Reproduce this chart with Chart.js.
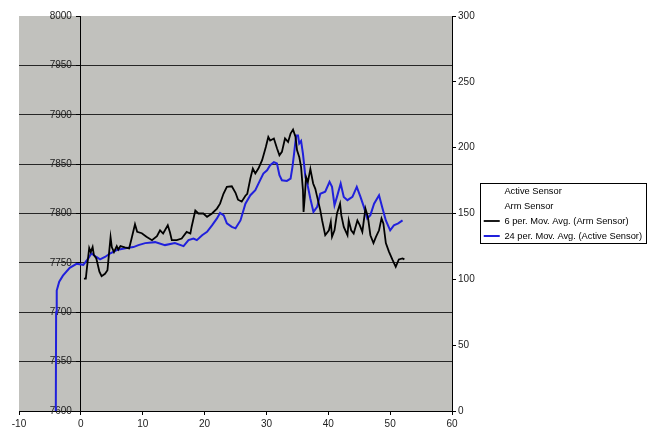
<!DOCTYPE html>
<html>
<head>
<meta charset="utf-8">
<script src="https://cdn.jsdelivr.net/npm/chart.js@4.4.0/dist/chart.umd.min.js"></script>
<style>
  html, body { margin: 0; padding: 0; background: #fff; }
  #wrap { width: 652px; height: 431px; }
</style>
</head>
<body>
<div id="wrap"><canvas id="sensorChart" width="652" height="431"></canvas></div>
<script>
// values
const armAvgX = [0.5, 0.8, 1.0, 1.35, 1.6, 1.9, 2.1, 2.5, 3.0, 3.35, 3.9, 4.3, 4.5, 4.8, 5.0, 5.35, 5.8, 6.05, 6.4, 7.1,
  7.8, 8.2, 8.75, 9.1, 9.85, 10.6, 11.5, 12.3, 12.8, 13.3, 14.05, 14.4, 14.7, 15.5, 16.3, 17.1, 17.7, 17.9, 18.5, 19.0,
  19.8, 20.4, 21.2, 22.0, 22.5, 23.05, 23.6, 24.4, 25.0, 25.4, 26.0, 26.6, 26.9, 27.4, 27.8, 28.2, 28.7, 29.3, 29.9, 30.3,
  30.6, 31.2, 31.7, 32.1, 32.5, 33.0, 33.5, 33.9, 34.3, 34.7, 34.95, 35.3, 35.6, 35.9, 36.0, 36.2, 36.4, 36.7, 37.1, 37.55,
  37.9, 38.2, 38.7, 39.0, 39.5, 40.1, 40.4, 40.6, 41.0, 41.4, 41.9, 42.1, 42.5, 43.1, 43.3, 43.7, 44.1, 44.7, 45.1, 45.5,
  46.0, 46.4, 46.8, 47.3, 47.7, 48.2, 48.6, 48.9, 49.3, 49.8, 50.4, 50.9, 51.4, 52.0, 52.3];
const armAvgY = [7734, 7734, 7746, 7765, 7761, 7766, 7758, 7754.5, 7741, 7736.5, 7739, 7742.5, 7756, 7776, 7766, 7761, 7767, 7763.5, 7767, 7765.6,
  7764.6, 7774.7, 7789, 7781.4, 7780, 7776.4, 7773, 7777, 7783, 7779.7, 7788, 7781, 7773, 7773, 7774.7, 7781.4, 7779.7, 7786.4, 7803, 7800,
  7800, 7796.6, 7800, 7805, 7810, 7820, 7827, 7827.6, 7821, 7814, 7812, 7818, 7820, 7835.4, 7845.5, 7840.5, 7845.5, 7854, 7867.4, 7877.5,
  7874, 7876, 7866, 7859, 7862.4, 7876, 7872.5, 7881, 7885, 7877.5, 7864, 7857.3, 7847, 7823.6, 7801.6, 7816.8, 7837, 7832, 7845, 7830.4,
  7825, 7816.8, 7803.4, 7793, 7778, 7783, 7791.5, 7776.4, 7783, 7800, 7810, 7798.3, 7786.4, 7778, 7793, 7783, 7779.7, 7793, 7788, 7781.4,
  7805, 7796.6, 7778, 7770, 7776.4, 7783, 7795, 7790, 7770, 7761.4, 7752.7, 7746, 7753.5, 7754.5, 7753.5];

const activeAvgX = [-4.05, -4.0, -3.9, -3.5, -2.9, -1.8, -0.7, 0.4, 1.2, 1.7, 2.5, 3.1, 3.9, 4.7, 5.8, 7.4, 8.5, 9.3, 10.4, 12.0,
  13.6, 15.2, 16.6, 17.4, 18.2, 18.75, 19.6, 20.4, 21.2, 22.0, 22.5, 23.1, 23.6, 24.4, 25.0, 25.8, 26.6, 27.4, 28.2, 29.0,
  29.5, 30.1, 30.6, 31.2, 31.7, 32.1, 32.5, 33.3, 33.9, 34.2, 34.5, 34.8, 35.1, 35.3, 35.6, 35.9, 36.3, 36.6, 37.1, 37.6,
  38.2, 38.7, 39.5, 40.2, 40.6, 41.0, 41.4, 42.0, 42.5, 43.1, 43.9, 44.6, 45.2, 45.75, 46.3, 46.8, 47.4, 48.2, 48.7, 49.3,
  50.0, 50.6, 51.3, 52.0];
const activeAvgY = [7600, 7700, 7722, 7731, 7737, 7745, 7749, 7748, 7754.5, 7759.5, 7756, 7753.5, 7756, 7759.5, 7763, 7765, 7766, 7768, 7770, 7771,
  7768, 7770, 7767, 7773, 7774.7, 7773, 7778, 7781.4, 7788, 7795, 7800.6, 7798, 7790, 7786.4, 7785, 7793, 7810, 7818.5, 7823.6, 7834,
  7840.5, 7843.8, 7849, 7852, 7850.6, 7838.8, 7833.7, 7833, 7835.4, 7847, 7862.4, 7879, 7879, 7871, 7873.5, 7860.7, 7837, 7830.4, 7815, 7801.6,
  7806.7, 7820, 7822, 7832, 7827, 7808.4, 7816.8, 7830.4, 7816.8, 7813.5, 7816.8, 7827, 7816.8, 7806.7, 7795, 7798.3, 7810, 7818.5, 7806.7, 7793,
  7783, 7788, 7790, 7793];

const seriesNames = ['Active Sensor', 'Arm Sensor', '6 per. Mov. Avg. (Arm Sensor)', '24 per. Mov. Avg. (Active Sensor)'];

// axis ranges [min, max, step]
const xRange = [-10, 60, 10];
const leftRange = [7600, 8000, 50];
const rightRange = [0, 300, 50];

const FONT = "'Liberation Sans', Arial, sans-serif";
const textColor = '#222';

function toPoints(xs, ys) {
  return xs.map((x, i) => ({ x: x, y: ys[i] }));
}

// grey plot area like the excel chart
const plotBackground = {
  id: 'plotBackground',
  beforeDraw(chart) {
    const { ctx, chartArea: a } = chart;
    ctx.save();
    ctx.fillStyle = '#c1c1bd';
    ctx.fillRect(a.left, a.top, a.right - a.left, a.bottom - a.top);
    ctx.restore();
  }
};

// box round the legend
const legendFrame = {
  id: 'legendFrame',
  afterDraw(chart) {
    const boxes = chart.legend.legendHitBoxes;
    if (!boxes || !boxes.length) return;
    let l = Infinity, r = -Infinity, t = Infinity, b = -Infinity;
    boxes.forEach(h => {
      l = Math.min(l, h.left);
      r = Math.max(r, h.left + h.width);
      t = Math.min(t, h.top);
      b = Math.max(b, h.top + h.height);
    });
    const ctx = chart.ctx;
    ctx.save();
    ctx.strokeStyle = '#000';
    ctx.lineWidth = 1;
    ctx.strokeRect(Math.round(l - 4) + 0.5, Math.round(t - 3) + 0.5, Math.round(r - l + 8), Math.round(b - t + 6));
    ctx.restore();
  }
};

const ctx = document.getElementById('sensorChart').getContext('2d');

new Chart(ctx, {
  type: 'line',
  data: {
    datasets: [
      { label: seriesNames[0], data: [], borderColor: 'rgba(0,0,0,0)', yAxisID: 'y2', pointRadius: 0 },
      { label: seriesNames[1], data: [], borderColor: 'rgba(0,0,0,0)', yAxisID: 'y2', pointRadius: 0 },
      {
        label: seriesNames[2],
        data: toPoints(armAvgX, armAvgY),
        borderColor: '#000',
        borderWidth: 1.8,
        pointRadius: 0,
        tension: 0,
        yAxisID: 'y',
      },
      {
        label: seriesNames[3],
        data: toPoints(activeAvgX, activeAvgY),
        borderColor: '#2020dc',
        borderWidth: 2,
        pointRadius: 0,
        tension: 0,
        yAxisID: 'y',
      },
    ],
  },
  options: {
    responsive: false,
    animation: false,
    devicePixelRatio: 1,
    layout: { padding: { left: 19, top: 16, right: 0, bottom: 0 } },
    scales: {
      x: {
        type: 'linear',
        min: xRange[0],
        max: xRange[1],
        ticks: { stepSize: xRange[2], padding: 3, color: textColor, font: { family: FONT, size: 10 }, maxRotation: 0 },
        grid: { drawOnChartArea: false, tickLength: 4, color: '#000' },
        border: { color: '#000' },
        afterFit(scale) { scale.height = 20; },
      },
      y: {
        type: 'linear',
        axis: 'y',
        position: { x: 0 },
        min: leftRange[0],
        max: leftRange[1],
        ticks: { display: false, stepSize: leftRange[2] },
        grid: {
          color: (c) => (c.tick && c.tick.value === leftRange[1] ? 'rgba(0,0,0,0)' : '#262626'),
          tickColor: '#000',
          tickLength: 4,
        },
        border: { color: '#000' },
      },
      yLabels: {
        type: 'linear',
        axis: 'y',
        position: { x: -1.45 },
        min: leftRange[0],
        max: leftRange[1],
        ticks: {
          stepSize: leftRange[2],
          padding: 0,
          color: textColor,
          font: { family: FONT, size: 10 },
          callback: (v) => String(v),
        },
        grid: { display: false, drawTicks: false },
        border: { display: false },
      },
      y2: {
        type: 'linear',
        position: 'right',
        min: rightRange[0],
        max: rightRange[1],
        ticks: { stepSize: rightRange[2], padding: 2, color: textColor, font: { family: FONT, size: 10 } },
        grid: { drawOnChartArea: false, tickLength: 4, color: '#000' },
        border: { color: '#000' },
        afterFit(scale) { scale.width = 26; },
      },
    },
    plugins: {
      legend: {
        position: 'right',
        align: 'center',
        fullSize: false,
        maxWidth: 190,
        labels: {
          usePointStyle: true,
          pointStyle: 'line',
          pointStyleWidth: 16,
          padding: 5.7,
          color: '#000',
          font: { family: FONT, size: 9.3 },
        },
      },
      tooltip: { enabled: false },
    },
  },
  plugins: [plotBackground, legendFrame],
});
</script>
</body>
</html>
